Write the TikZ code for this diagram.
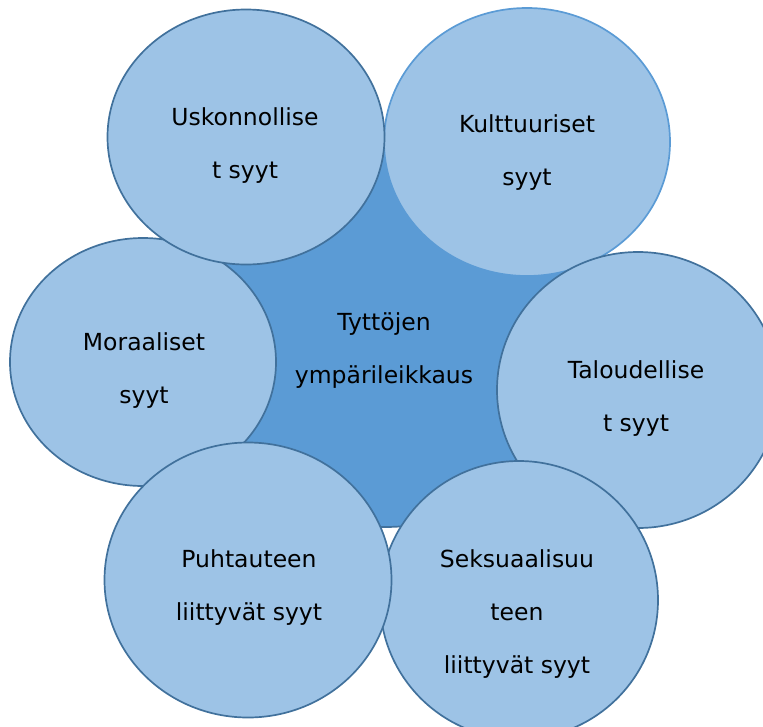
\documentclass[tikz,border=0pt]{standalone}
\usepackage{fontspec}
\setmainfont{DejaVu Sans}
\usetikzlibrary{shapes.geometric}
\definecolor{bubblefill}{HTML}{9DC3E6}
\definecolor{corefill}{HTML}{5B9BD5}
\definecolor{rimcol}{HTML}{41719C}

\begin{document}
\begin{tikzpicture}[x=1pt,y=-1pt,
                    bubble/.style={ellipse,draw=rimcol,fill=bubblefill,line width=1.7pt,inner sep=0pt},
                    core/.style={bubble,fill=corefill},
                    lbl/.style={align=center,font=\fontsize{23.5}{53}\selectfont,text=black}]
  \useasboundingbox (0,0) rectangle (763,726);
  \clip (0,0) rectangle (763,726);
  % centre and the six causes around it
  \node[core,minimum width=410pt,minimum height=394pt] (core) at (385,330) {};
  \node[bubble,draw=corefill,minimum width=286pt,minimum height=268pt] (kult) at (527,142) {};
  \node[bubble,minimum width=282pt,minimum height=276pt] (tal) at (638,390) {};
  \node[bubble,minimum width=278pt,minimum height=278pt] (seks) at (519,600) {};
  \node[bubble,minimum width=266pt,minimum height=248pt] (mor) at (143,362) {};
  \node[bubble,minimum width=287pt,minimum height=275pt] (puht) at (248,580) {};
  \node[bubble,minimum width=277pt,minimum height=255pt] (usk) at (246,137) {};
  % labels
  \node[lbl] (core-t) at (384,351) {Tyttöjen\\ympärileikkaus};
  \node[lbl] (kult-t) at (527,153) {Kulttuuriset\\syyt};
  \node[lbl] (tal-t) at (636,399) {Taloudellise\\t syyt};
  \node[lbl] (seks-t) at (517,614) {Seksuaalisuu\\teen\\liittyvät syyt};
  \node[lbl] (mor-t) at (144,371) {Moraaliset\\syyt};
  \node[lbl] (puht-t) at (249,588) {Puhtauteen\\liittyvät syyt};
  \node[lbl] (usk-t) at (245,146) {Uskonnollise\\t syyt};
\end{tikzpicture}
\end{document}
